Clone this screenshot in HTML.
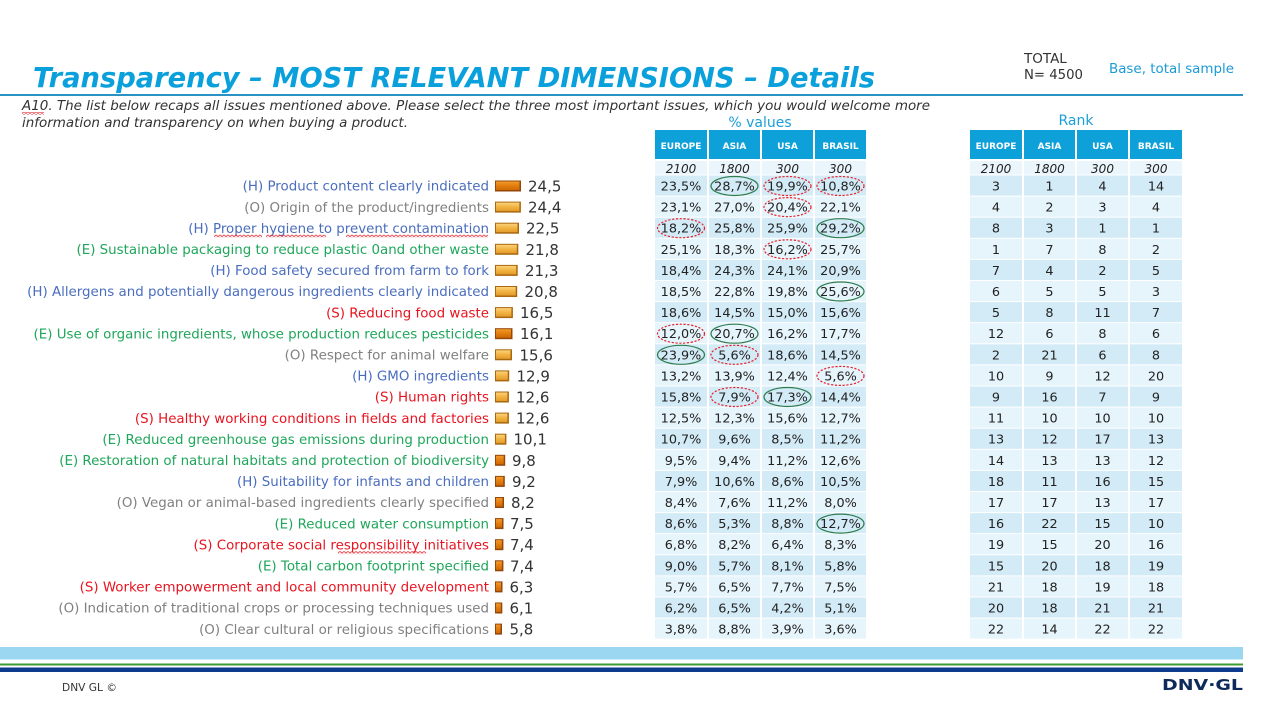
<!DOCTYPE html>
<html>
<head>
<meta charset="utf-8">
<style>
html,body{margin:0;padding:0;background:#fff;}
svg{display:block;}
.lb{font-family:"DejaVu Sans",sans-serif;font-size:13.4px;text-anchor:end}
.h{fill:#4a6dbf}.o{fill:#808080}.e{fill:#1ea65a}.s{fill:#e8131f}
.v{font-family:"DejaVu Sans",sans-serif;font-size:15px;fill:#333}
.t{font-family:"DejaVu Sans",sans-serif;font-size:12.8px;fill:#222;text-anchor:middle}
.hd{font-family:"DejaVu Sans",sans-serif;font-weight:bold;font-size:9px;fill:#fff;text-anchor:middle}
.it{font-family:"DejaVu Sans",sans-serif;font-style:italic;font-size:12px;fill:#222;text-anchor:middle}
.d{fill:#d3ebf7}.l{fill:#e6f4fb}
.bo{fill:#a9680f}.bi{fill:url(#gold)}
.ob{fill:#94470a}.oi{fill:url(#orng)}
.eg{fill:none;stroke:#2e7d4f;stroke-width:1.2}
.er{fill:none;stroke:#e8202a;stroke-width:1.2;stroke-dasharray:2.2 1.6}
.sq{fill:none;stroke:#e8202a;stroke-width:0.8}
</style>
</head>
<body>
<svg width="1277" height="714" viewBox="0 0 1277 714" xmlns="http://www.w3.org/2000/svg">
<defs>
<linearGradient id="gold" x1="0" y1="0" x2="0" y2="1">
<stop offset="0" stop-color="#fbd27a"/><stop offset="0.5" stop-color="#f2b443"/><stop offset="1" stop-color="#e39c2c"/>
</linearGradient>
<linearGradient id="orng" x1="0" y1="0" x2="0" y2="1">
<stop offset="0" stop-color="#f29a2a"/><stop offset="0.5" stop-color="#e27d0e"/><stop offset="1" stop-color="#cf6a04"/>
</linearGradient>
<pattern id="wave" x="0" y="0" width="4" height="3" patternUnits="userSpaceOnUse">
<path d="M0 0.5 L2 2.5 L4 0.5" fill="none" stroke="#e8202a" stroke-width="0.8"/>
</pattern>
</defs>

<!-- Title -->
<text x="33" y="87" font-family="DejaVu Sans, sans-serif" font-weight="bold" font-style="italic" font-size="28" fill="#0aa0db" textLength="842" lengthAdjust="spacingAndGlyphs">Transparency – MOST RELEVANT DIMENSIONS – Details</text>
<rect x="0" y="94" width="1243" height="2" fill="#2a93c4"/>

<text x="1024" y="63" font-family="DejaVu Sans, sans-serif" font-size="13.5" fill="#333">TOTAL</text>
<text x="1024" y="79" font-family="DejaVu Sans, sans-serif" font-size="13.5" fill="#333" textLength="59" lengthAdjust="spacingAndGlyphs">N= 4500</text>
<text x="1109" y="73" font-family="DejaVu Sans, sans-serif" font-size="13" fill="#1c9ad6" textLength="125" lengthAdjust="spacingAndGlyphs">Base, total sample</text>

<text x="22" y="110" font-family="DejaVu Sans, sans-serif" font-style="italic" font-size="13" fill="#333" textLength="908" lengthAdjust="spacingAndGlyphs">A10. The list below recaps all issues mentioned above. Please select the three most important issues, which you would welcome more</text>
<text x="22" y="127" font-family="DejaVu Sans, sans-serif" font-style="italic" font-size="13" fill="#333" textLength="386" lengthAdjust="spacingAndGlyphs">information and transparency on when buying a product.</text>
<rect x="22" y="112" width="22" height="3" fill="url(#wave)"/>

<text x="760" y="127" font-family="DejaVu Sans, sans-serif" font-size="14" fill="#1a9fd8" text-anchor="middle">% values</text>
<text x="1076" y="125" font-family="DejaVu Sans, sans-serif" font-size="14" fill="#1a9fd8" text-anchor="middle">Rank</text>

<!-- headers -->
<rect x="655" y="130" width="211" height="29" fill="#0ea0d9"/>
<rect x="970" y="130" width="212" height="29" fill="#0ea0d9"/>
<text class="hd" x="681" y="149">EUROPE</text>
<text class="hd" x="734.5" y="149">ASIA</text>
<text class="hd" x="787.5" y="149">USA</text>
<text class="hd" x="840.5" y="149">BRASIL</text>
<text class="hd" x="996" y="149">EUROPE</text>
<text class="hd" x="1049.5" y="149">ASIA</text>
<text class="hd" x="1102.5" y="149">USA</text>
<text class="hd" x="1156" y="149">BRASIL</text>

<rect x="655" y="161" width="211" height="13.5" fill="#eaf6fc"/>
<rect x="970" y="161" width="212" height="13.5" fill="#eaf6fc"/>
<text class="it" x="681" y="173">2100</text>
<text class="it" x="734.5" y="173">1800</text>
<text class="it" x="787.5" y="173">300</text>
<text class="it" x="840.5" y="173">300</text>
<text class="it" x="996" y="173">2100</text>
<text class="it" x="1049.5" y="173">1800</text>
<text class="it" x="1102.5" y="173">300</text>
<text class="it" x="1156" y="173">300</text>

<!-- Row 1 -->
<g transform="translate(0,186)">
<rect x="655" y="-10.5" width="211" height="20.1" class="d"/><rect x="970" y="-10.5" width="212" height="20.1" class="d"/>
<text class="lb h" x="489" y="4.7">(H) Product content clearly indicated</text>
<rect class="ob" x="495" y="-5.5" width="26" height="11"/><rect class="oi" x="496" y="-4.5" width="23.5" height="8.5"/>
<text class="v" x="528" y="5.5">24,5</text>
<text class="t" x="681" y="4.5">23,5%</text><text class="t" x="734.5" y="4.5">28,7%</text><text class="t" x="787.5" y="4.5">19,9%</text><text class="t" x="840.5" y="4.5">10,8%</text>
<text class="t" x="996" y="4.5">3</text><text class="t" x="1049.5" y="4.5">1</text><text class="t" x="1102.5" y="4.5">4</text><text class="t" x="1156" y="4.5">14</text>
<ellipse class="eg" cx="734.5" cy="0" rx="23.5" ry="9.5"/><ellipse class="er" cx="787.5" cy="0" rx="23.5" ry="9.5"/><ellipse class="er" cx="840.5" cy="0" rx="23.5" ry="9.5"/>
</g>
<!-- Row 2 -->
<g transform="translate(0,207.1)">
<rect x="655" y="-10.5" width="211" height="20.1" class="l"/><rect x="970" y="-10.5" width="212" height="20.1" class="l"/>
<text class="lb o" x="489" y="4.7">(O) Origin of the product/ingredients</text>
<rect class="bo" x="495" y="-5.5" width="25.9" height="11"/><rect class="bi" x="496" y="-4.5" width="23.4" height="8.5"/>
<text class="v" x="528" y="5.5">24,4</text>
<text class="t" x="681" y="4.5">23,1%</text><text class="t" x="734.5" y="4.5">27,0%</text><text class="t" x="787.5" y="4.5">20,4%</text><text class="t" x="840.5" y="4.5">22,1%</text>
<text class="t" x="996" y="4.5">4</text><text class="t" x="1049.5" y="4.5">2</text><text class="t" x="1102.5" y="4.5">3</text><text class="t" x="1156" y="4.5">4</text>
<ellipse class="er" cx="787.5" cy="0" rx="23.5" ry="9.5"/>
</g>
<!-- Row 3 -->
<g transform="translate(0,228.2)">
<rect x="655" y="-10.5" width="211" height="20.1" class="d"/><rect x="970" y="-10.5" width="212" height="20.1" class="d"/>
<text class="lb h" x="489" y="4.7">(H) Proper hygiene to prevent contamination</text>
<rect x="214" y="6.5" width="48" height="3" fill="url(#wave)"/>
<rect x="266" y="6.5" width="60" height="3" fill="url(#wave)"/>
<rect x="346" y="6.5" width="142" height="3" fill="url(#wave)"/>
<rect class="bo" x="495" y="-5.5" width="24" height="11"/><rect class="bi" x="496" y="-4.5" width="21.5" height="8.5"/>
<text class="v" x="526" y="5.5">22,5</text>
<text class="t" x="681" y="4.5">18,2%</text><text class="t" x="734.5" y="4.5">25,8%</text><text class="t" x="787.5" y="4.5">25,9%</text><text class="t" x="840.5" y="4.5">29,2%</text>
<text class="t" x="996" y="4.5">8</text><text class="t" x="1049.5" y="4.5">3</text><text class="t" x="1102.5" y="4.5">1</text><text class="t" x="1156" y="4.5">1</text>
<ellipse class="er" cx="681" cy="0" rx="23.5" ry="9.5"/><ellipse class="eg" cx="840.5" cy="0" rx="23.5" ry="9.5"/>
</g>
<!-- Row 4 -->
<g transform="translate(0,249.3)">
<rect x="655" y="-10.5" width="211" height="20.1" class="l"/><rect x="970" y="-10.5" width="212" height="20.1" class="l"/>
<text class="lb e" x="489" y="4.7">(E) Sustainable packaging to reduce plastic 0and other waste</text>
<rect class="bo" x="495" y="-5.5" width="23.3" height="11"/><rect class="bi" x="496" y="-4.5" width="20.8" height="8.5"/>
<text class="v" x="525.5" y="5.5">21,8</text>
<text class="t" x="681" y="4.5">25,1%</text><text class="t" x="734.5" y="4.5">18,3%</text><text class="t" x="787.5" y="4.5">16,2%</text><text class="t" x="840.5" y="4.5">25,7%</text>
<text class="t" x="996" y="4.5">1</text><text class="t" x="1049.5" y="4.5">7</text><text class="t" x="1102.5" y="4.5">8</text><text class="t" x="1156" y="4.5">2</text>
<ellipse class="er" cx="787.5" cy="0" rx="23.5" ry="9.5"/>
</g>
<!-- Row 5 -->
<g transform="translate(0,270.4)">
<rect x="655" y="-10.5" width="211" height="20.1" class="d"/><rect x="970" y="-10.5" width="212" height="20.1" class="d"/>
<text class="lb h" x="489" y="4.7">(H) Food safety secured from farm to fork</text>
<rect class="bo" x="495" y="-5.5" width="22.7" height="11"/><rect class="bi" x="496" y="-4.5" width="20.2" height="8.5"/>
<text class="v" x="525" y="5.5">21,3</text>
<text class="t" x="681" y="4.5">18,4%</text><text class="t" x="734.5" y="4.5">24,3%</text><text class="t" x="787.5" y="4.5">24,1%</text><text class="t" x="840.5" y="4.5">20,9%</text>
<text class="t" x="996" y="4.5">7</text><text class="t" x="1049.5" y="4.5">4</text><text class="t" x="1102.5" y="4.5">2</text><text class="t" x="1156" y="4.5">5</text>
</g>
<!-- Row 6 -->
<g transform="translate(0,291.5)">
<rect x="655" y="-10.5" width="211" height="20.1" class="l"/><rect x="970" y="-10.5" width="212" height="20.1" class="l"/>
<text class="lb h" x="489" y="4.7">(H) Allergens and potentially dangerous ingredients clearly indicated</text>
<rect class="bo" x="495" y="-5.5" width="22.2" height="11"/><rect class="bi" x="496" y="-4.5" width="19.7" height="8.5"/>
<text class="v" x="524.5" y="5.5">20,8</text>
<text class="t" x="681" y="4.5">18,5%</text><text class="t" x="734.5" y="4.5">22,8%</text><text class="t" x="787.5" y="4.5">19,8%</text><text class="t" x="840.5" y="4.5">25,6%</text>
<text class="t" x="996" y="4.5">6</text><text class="t" x="1049.5" y="4.5">5</text><text class="t" x="1102.5" y="4.5">5</text><text class="t" x="1156" y="4.5">3</text>
<ellipse class="eg" cx="840.5" cy="0" rx="23.5" ry="9.5"/>
</g>
<!-- Row 7 -->
<g transform="translate(0,312.6)">
<rect x="655" y="-10.5" width="211" height="20.1" class="d"/><rect x="970" y="-10.5" width="212" height="20.1" class="d"/>
<text class="lb s" x="489" y="4.7">(S) Reducing food waste</text>
<rect class="bo" x="495" y="-5.5" width="17.9" height="11"/><rect class="bi" x="496" y="-4.5" width="15.4" height="8.5"/>
<text class="v" x="520" y="5.5">16,5</text>
<text class="t" x="681" y="4.5">18,6%</text><text class="t" x="734.5" y="4.5">14,5%</text><text class="t" x="787.5" y="4.5">15,0%</text><text class="t" x="840.5" y="4.5">15,6%</text>
<text class="t" x="996" y="4.5">5</text><text class="t" x="1049.5" y="4.5">8</text><text class="t" x="1102.5" y="4.5">11</text><text class="t" x="1156" y="4.5">7</text>
</g>
<!-- Row 8 -->
<g transform="translate(0,333.7)">
<rect x="655" y="-10.5" width="211" height="20.1" class="l"/><rect x="970" y="-10.5" width="212" height="20.1" class="l"/>
<text class="lb e" x="489" y="4.7">(E) Use of organic ingredients, whose production reduces pesticides</text>
<rect class="ob" x="495" y="-5.5" width="17.5" height="11"/><rect class="oi" x="496" y="-4.5" width="15" height="8.5"/>
<text class="v" x="520" y="5.5">16,1</text>
<text class="t" x="681" y="4.5">12,0%</text><text class="t" x="734.5" y="4.5">20,7%</text><text class="t" x="787.5" y="4.5">16,2%</text><text class="t" x="840.5" y="4.5">17,7%</text>
<text class="t" x="996" y="4.5">12</text><text class="t" x="1049.5" y="4.5">6</text><text class="t" x="1102.5" y="4.5">8</text><text class="t" x="1156" y="4.5">6</text>
<ellipse class="er" cx="681" cy="0" rx="23.5" ry="9.5"/><ellipse class="eg" cx="734.5" cy="0" rx="23.5" ry="9.5"/>
</g>
<!-- Row 9 -->
<g transform="translate(0,354.8)">
<rect x="655" y="-10.5" width="211" height="20.1" class="d"/><rect x="970" y="-10.5" width="212" height="20.1" class="d"/>
<text class="lb o" x="489" y="4.7">(O) Respect for animal welfare</text>
<rect class="bo" x="495" y="-5.5" width="17" height="11"/><rect class="bi" x="496" y="-4.5" width="14.5" height="8.5"/>
<text class="v" x="519.5" y="5.5">15,6</text>
<text class="t" x="681" y="4.5">23,9%</text><text class="t" x="734.5" y="4.5">5,6%</text><text class="t" x="787.5" y="4.5">18,6%</text><text class="t" x="840.5" y="4.5">14,5%</text>
<text class="t" x="996" y="4.5">2</text><text class="t" x="1049.5" y="4.5">21</text><text class="t" x="1102.5" y="4.5">6</text><text class="t" x="1156" y="4.5">8</text>
<ellipse class="eg" cx="681" cy="0" rx="23.5" ry="9.5"/><ellipse class="er" cx="734.5" cy="0" rx="23.5" ry="9.5"/>
</g>
<!-- Row 10 -->
<g transform="translate(0,375.9)">
<rect x="655" y="-10.5" width="211" height="20.1" class="l"/><rect x="970" y="-10.5" width="212" height="20.1" class="l"/>
<text class="lb h" x="489" y="4.7">(H) GMO ingredients</text>
<rect class="bo" x="495" y="-5.5" width="14.2" height="11"/><rect class="bi" x="496" y="-4.5" width="11.7" height="8.5"/>
<text class="v" x="516.5" y="5.5">12,9</text>
<text class="t" x="681" y="4.5">13,2%</text><text class="t" x="734.5" y="4.5">13,9%</text><text class="t" x="787.5" y="4.5">12,4%</text><text class="t" x="840.5" y="4.5">5,6%</text>
<text class="t" x="996" y="4.5">10</text><text class="t" x="1049.5" y="4.5">9</text><text class="t" x="1102.5" y="4.5">12</text><text class="t" x="1156" y="4.5">20</text>
<ellipse class="er" cx="840.5" cy="0" rx="23.5" ry="9.5"/>
</g>
<!-- Row 11 -->
<g transform="translate(0,397)">
<rect x="655" y="-10.5" width="211" height="20.1" class="d"/><rect x="970" y="-10.5" width="212" height="20.1" class="d"/>
<text class="lb s" x="489" y="4.7">(S) Human rights</text>
<rect class="bo" x="495" y="-5.5" width="13.9" height="11"/><rect class="bi" x="496" y="-4.5" width="11.4" height="8.5"/>
<text class="v" x="516" y="5.5">12,6</text>
<text class="t" x="681" y="4.5">15,8%</text><text class="t" x="734.5" y="4.5">7,9%</text><text class="t" x="787.5" y="4.5">17,3%</text><text class="t" x="840.5" y="4.5">14,4%</text>
<text class="t" x="996" y="4.5">9</text><text class="t" x="1049.5" y="4.5">16</text><text class="t" x="1102.5" y="4.5">7</text><text class="t" x="1156" y="4.5">9</text>
<ellipse class="er" cx="734.5" cy="0" rx="23.5" ry="9.5"/><ellipse class="eg" cx="787.5" cy="0" rx="23.5" ry="9.5"/>
</g>
<!-- Row 12 -->
<g transform="translate(0,418.1)">
<rect x="655" y="-10.5" width="211" height="20.1" class="l"/><rect x="970" y="-10.5" width="212" height="20.1" class="l"/>
<text class="lb s" x="489" y="4.7">(S) Healthy working conditions in fields and factories</text>
<rect class="bo" x="495" y="-5.5" width="13.9" height="11"/><rect class="bi" x="496" y="-4.5" width="11.4" height="8.5"/>
<text class="v" x="516" y="5.5">12,6</text>
<text class="t" x="681" y="4.5">12,5%</text><text class="t" x="734.5" y="4.5">12,3%</text><text class="t" x="787.5" y="4.5">15,6%</text><text class="t" x="840.5" y="4.5">12,7%</text>
<text class="t" x="996" y="4.5">11</text><text class="t" x="1049.5" y="4.5">10</text><text class="t" x="1102.5" y="4.5">10</text><text class="t" x="1156" y="4.5">10</text>
</g>
<!-- Row 13 -->
<g transform="translate(0,439.2)">
<rect x="655" y="-10.5" width="211" height="20.1" class="d"/><rect x="970" y="-10.5" width="212" height="20.1" class="d"/>
<text class="lb e" x="489" y="4.7">(E) Reduced greenhouse gas emissions during production</text>
<rect class="bo" x="495" y="-5.5" width="11.4" height="11"/><rect class="bi" x="496" y="-4.5" width="8.9" height="8.5"/>
<text class="v" x="513.5" y="5.5">10,1</text>
<text class="t" x="681" y="4.5">10,7%</text><text class="t" x="734.5" y="4.5">9,6%</text><text class="t" x="787.5" y="4.5">8,5%</text><text class="t" x="840.5" y="4.5">11,2%</text>
<text class="t" x="996" y="4.5">13</text><text class="t" x="1049.5" y="4.5">12</text><text class="t" x="1102.5" y="4.5">17</text><text class="t" x="1156" y="4.5">13</text>
</g>
<!-- Row 14 -->
<g transform="translate(0,460.3)">
<rect x="655" y="-10.5" width="211" height="20.1" class="l"/><rect x="970" y="-10.5" width="212" height="20.1" class="l"/>
<text class="lb e" x="489" y="4.7">(E) Restoration of natural habitats and protection of biodiversity</text>
<rect class="ob" x="495" y="-5.5" width="10.2" height="11"/><rect class="oi" x="496" y="-4.5" width="7.7" height="8.5"/>
<text class="v" x="512" y="5.5">9,8</text>
<text class="t" x="681" y="4.5">9,5%</text><text class="t" x="734.5" y="4.5">9,4%</text><text class="t" x="787.5" y="4.5">11,2%</text><text class="t" x="840.5" y="4.5">12,6%</text>
<text class="t" x="996" y="4.5">14</text><text class="t" x="1049.5" y="4.5">13</text><text class="t" x="1102.5" y="4.5">13</text><text class="t" x="1156" y="4.5">12</text>
</g>
<!-- Row 15 -->
<g transform="translate(0,481.4)">
<rect x="655" y="-10.5" width="211" height="20.1" class="d"/><rect x="970" y="-10.5" width="212" height="20.1" class="d"/>
<text class="lb h" x="489" y="4.7">(H) Suitability for infants and children</text>
<rect class="ob" x="495" y="-5.5" width="9.8" height="11"/><rect class="oi" x="496" y="-4.5" width="7.3" height="8.5"/>
<text class="v" x="512" y="5.5">9,2</text>
<text class="t" x="681" y="4.5">7,9%</text><text class="t" x="734.5" y="4.5">10,6%</text><text class="t" x="787.5" y="4.5">8,6%</text><text class="t" x="840.5" y="4.5">10,5%</text>
<text class="t" x="996" y="4.5">18</text><text class="t" x="1049.5" y="4.5">11</text><text class="t" x="1102.5" y="4.5">16</text><text class="t" x="1156" y="4.5">15</text>
</g>
<!-- Row 16 -->
<g transform="translate(0,502.5)">
<rect x="655" y="-10.5" width="211" height="20.1" class="l"/><rect x="970" y="-10.5" width="212" height="20.1" class="l"/>
<text class="lb o" x="489" y="4.7">(O) Vegan or animal-based ingredients clearly specified</text>
<rect class="ob" x="495" y="-5.5" width="9" height="11"/><rect class="oi" x="496" y="-4.5" width="6.5" height="8.5"/>
<text class="v" x="511" y="5.5">8,2</text>
<text class="t" x="681" y="4.5">8,4%</text><text class="t" x="734.5" y="4.5">7,6%</text><text class="t" x="787.5" y="4.5">11,2%</text><text class="t" x="840.5" y="4.5">8,0%</text>
<text class="t" x="996" y="4.5">17</text><text class="t" x="1049.5" y="4.5">17</text><text class="t" x="1102.5" y="4.5">13</text><text class="t" x="1156" y="4.5">17</text>
</g>
<!-- Row 17 -->
<g transform="translate(0,523.6)">
<rect x="655" y="-10.5" width="211" height="20.1" class="d"/><rect x="970" y="-10.5" width="212" height="20.1" class="d"/>
<text class="lb e" x="489" y="4.7">(E) Reduced water consumption</text>
<rect class="ob" x="495" y="-5.5" width="8.5" height="11"/><rect class="oi" x="496" y="-4.5" width="6" height="8.5"/>
<text class="v" x="510" y="5.5">7,5</text>
<text class="t" x="681" y="4.5">8,6%</text><text class="t" x="734.5" y="4.5">5,3%</text><text class="t" x="787.5" y="4.5">8,8%</text><text class="t" x="840.5" y="4.5">12,7%</text>
<text class="t" x="996" y="4.5">16</text><text class="t" x="1049.5" y="4.5">22</text><text class="t" x="1102.5" y="4.5">15</text><text class="t" x="1156" y="4.5">10</text>
<ellipse class="eg" cx="840.5" cy="0" rx="23.5" ry="9.5"/>
</g>
<!-- Row 18 -->
<g transform="translate(0,544.7)">
<rect x="655" y="-10.5" width="211" height="20.1" class="l"/><rect x="970" y="-10.5" width="212" height="20.1" class="l"/>
<text class="lb s" x="489" y="4.7">(S) Corporate social responsibility initiatives</text>
<rect x="338" y="6.5" width="88" height="3" fill="url(#wave)"/>
<rect class="ob" x="495" y="-5.5" width="8.4" height="11"/><rect class="oi" x="496" y="-4.5" width="5.9" height="8.5"/>
<text class="v" x="510" y="5.5">7,4</text>
<text class="t" x="681" y="4.5">6,8%</text><text class="t" x="734.5" y="4.5">8,2%</text><text class="t" x="787.5" y="4.5">6,4%</text><text class="t" x="840.5" y="4.5">8,3%</text>
<text class="t" x="996" y="4.5">19</text><text class="t" x="1049.5" y="4.5">15</text><text class="t" x="1102.5" y="4.5">20</text><text class="t" x="1156" y="4.5">16</text>
</g>
<!-- Row 19 -->
<g transform="translate(0,565.8)">
<rect x="655" y="-10.5" width="211" height="20.1" class="d"/><rect x="970" y="-10.5" width="212" height="20.1" class="d"/>
<text class="lb e" x="489" y="4.7">(E) Total carbon footprint specified</text>
<rect class="ob" x="495" y="-5.5" width="8.4" height="11"/><rect class="oi" x="496" y="-4.5" width="5.9" height="8.5"/>
<text class="v" x="510" y="5.5">7,4</text>
<text class="t" x="681" y="4.5">9,0%</text><text class="t" x="734.5" y="4.5">5,7%</text><text class="t" x="787.5" y="4.5">8,1%</text><text class="t" x="840.5" y="4.5">5,8%</text>
<text class="t" x="996" y="4.5">15</text><text class="t" x="1049.5" y="4.5">20</text><text class="t" x="1102.5" y="4.5">18</text><text class="t" x="1156" y="4.5">19</text>
</g>
<!-- Row 20 -->
<g transform="translate(0,586.9)">
<rect x="655" y="-10.5" width="211" height="20.1" class="l"/><rect x="970" y="-10.5" width="212" height="20.1" class="l"/>
<text class="lb s" x="489" y="4.7">(S) Worker empowerment and local community development</text>
<rect class="ob" x="495" y="-5.5" width="7.5" height="11"/><rect class="oi" x="496" y="-4.5" width="5" height="8.5"/>
<text class="v" x="509.5" y="5.5">6,3</text>
<text class="t" x="681" y="4.5">5,7%</text><text class="t" x="734.5" y="4.5">6,5%</text><text class="t" x="787.5" y="4.5">7,7%</text><text class="t" x="840.5" y="4.5">7,5%</text>
<text class="t" x="996" y="4.5">21</text><text class="t" x="1049.5" y="4.5">18</text><text class="t" x="1102.5" y="4.5">19</text><text class="t" x="1156" y="4.5">18</text>
</g>
<!-- Row 21 -->
<g transform="translate(0,608)">
<rect x="655" y="-10.5" width="211" height="20.1" class="d"/><rect x="970" y="-10.5" width="212" height="20.1" class="d"/>
<text class="lb o" x="489" y="4.7">(O) Indication of traditional crops or processing techniques used</text>
<rect class="ob" x="495" y="-5.5" width="7.3" height="11"/><rect class="oi" x="496" y="-4.5" width="4.8" height="8.5"/>
<text class="v" x="509.5" y="5.5">6,1</text>
<text class="t" x="681" y="4.5">6,2%</text><text class="t" x="734.5" y="4.5">6,5%</text><text class="t" x="787.5" y="4.5">4,2%</text><text class="t" x="840.5" y="4.5">5,1%</text>
<text class="t" x="996" y="4.5">20</text><text class="t" x="1049.5" y="4.5">18</text><text class="t" x="1102.5" y="4.5">21</text><text class="t" x="1156" y="4.5">21</text>
</g>
<!-- Row 22 -->
<g transform="translate(0,629.1)">
<rect x="655" y="-10.5" width="211" height="20.1" class="l"/><rect x="970" y="-10.5" width="212" height="20.1" class="l"/>
<text class="lb o" x="489" y="4.7">(O) Clear cultural or religious specifications</text>
<rect class="ob" x="495" y="-5.5" width="7" height="11"/><rect class="oi" x="496" y="-4.5" width="4.5" height="8.5"/>
<text class="v" x="509.5" y="5.5">5,8</text>
<text class="t" x="681" y="4.5">3,8%</text><text class="t" x="734.5" y="4.5">8,8%</text><text class="t" x="787.5" y="4.5">3,9%</text><text class="t" x="840.5" y="4.5">3,6%</text>
<text class="t" x="996" y="4.5">22</text><text class="t" x="1049.5" y="4.5">14</text><text class="t" x="1102.5" y="4.5">22</text><text class="t" x="1156" y="4.5">22</text>
</g>

<!-- column separators -->
<g fill="#ffffff">
<rect x="707" y="130" width="2" height="510"/>
<rect x="760" y="130" width="2" height="510"/>
<rect x="813" y="130" width="2" height="510"/>
<rect x="1022" y="130" width="2" height="510"/>
<rect x="1075" y="130" width="2" height="510"/>
<rect x="1128" y="130" width="2" height="510"/>
</g>

<!-- Footer -->
<rect x="0" y="647" width="1243" height="12.5" fill="#9bd7f0"/>
<rect x="0" y="663.5" width="1243" height="2" fill="#3d9b35"/>
<rect x="0" y="667.5" width="1243" height="4.5" fill="#0d3b8e"/>
<text x="62" y="691" font-family="DejaVu Sans, sans-serif" font-size="10.5" fill="#333" textLength="55" lengthAdjust="spacingAndGlyphs">DNV GL ©</text>
<text x="1162" y="690" font-family="DejaVu Sans, sans-serif" font-weight="bold" font-size="15" fill="#0f2a5a" textLength="81" lengthAdjust="spacingAndGlyphs">DNV·GL</text>
</svg>
</body>
</html>
